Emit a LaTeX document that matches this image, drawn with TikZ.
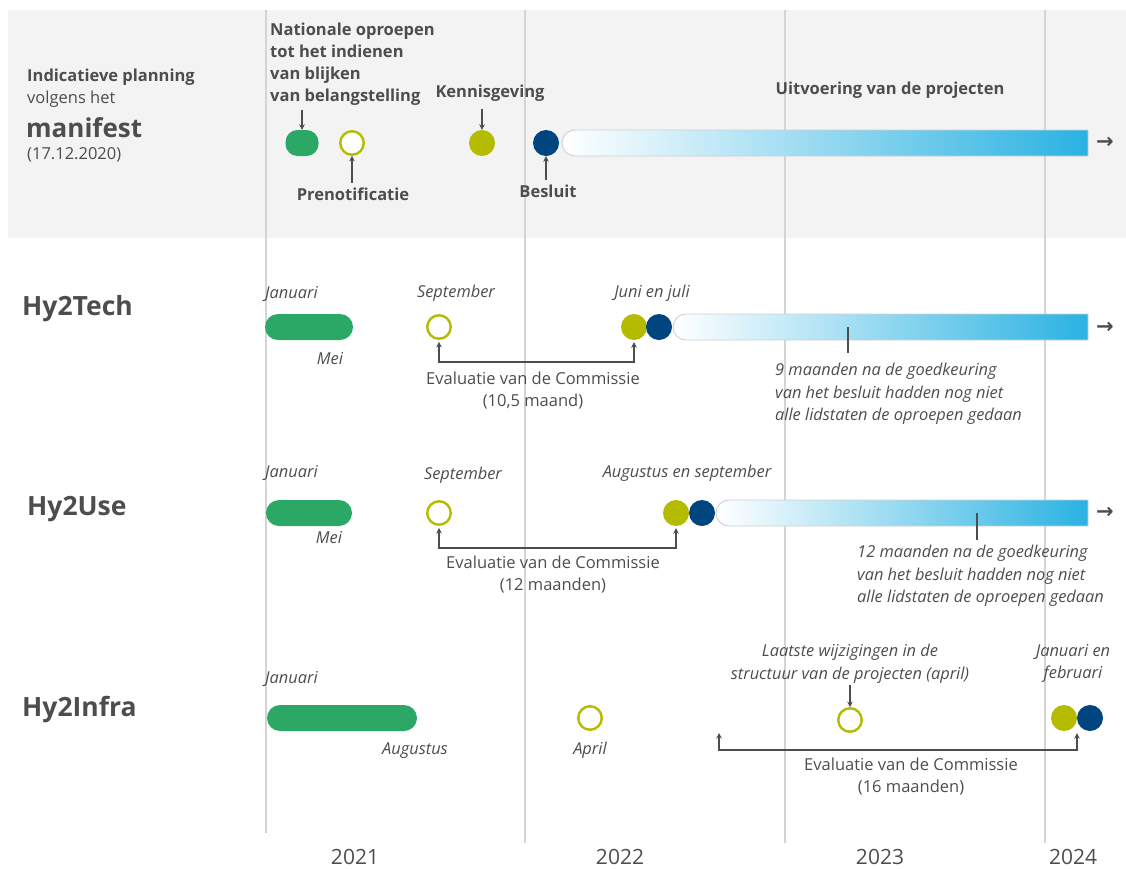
\documentclass[tikz,border=0pt]{standalone}
\usepackage{fontspec}
\setmainfont{Open Sans}
\newfontfamily\symfont{DejaVu Sans}
\usetikzlibrary{arrows.meta}

\definecolor{txt}{HTML}{4D4D4D}
\definecolor{band}{HTML}{F3F3F3}
\definecolor{gridgray}{HTML}{D4D4D4}
\definecolor{callgreen}{HTML}{2BA866}
\definecolor{olivedot}{HTML}{B4BB00}
\definecolor{navydot}{HTML}{00457F}
\definecolor{barcyan}{HTML}{2AB2E2}
\definecolor{barrim}{HTML}{D0D0D0}

% gradient bar: #1 left x, #2 centre y
\newcommand\gradbar[2]{%
  \shadedraw[left color=white, right color=barcyan, draw=barrim, line width=0.9]
    (1088,#2-13) -- (#1+13,#2-13) arc[start angle=270, end angle=90, radius=13]
    -- (1088,#2+13) -- cycle;}

\begin{document}
\begin{tikzpicture}[x=1pt, y=-1pt,
  lbl/.style={text=txt, inner sep=0, font=\fontsize{16.5}{22}\selectfont},
  lblb/.style={lbl, font=\fontsize{16.5}{22}\selectfont\bfseries},
  mon/.style={lbl, font=\fontsize{16.4}{22.5}\selectfont\itshape},
  rowhead/.style={lbl, font=\fontsize{26.5}{30}\selectfont\bfseries, anchor=base west},
  year/.style={lbl, font=\fontsize{21}{26}\selectfont, anchor=base},
  fdot/.style={circle, minimum size=26, inner sep=0},
  oli/.style={fdot, fill=olivedot},
  navy/.style={fdot, fill=navydot},
  ring/.style={circle, draw=olivedot, line width=2.4, minimum size=23.5, inner sep=0, fill=white},
  pill/.style={fill=callgreen, rounded corners=13, minimum height=26, inner sep=0},
  ptr/.style={draw=txt, line width=1.2, -{Stealth[length=5.5,width=5.5]}},
  brk/.style={draw=txt, line width=1.2, {Stealth[length=5.5,width=5.5]}-{Stealth[length=5.5,width=5.5]}},
  gridline/.style={draw=gridgray, line width=1.6},
  tickline/.style={draw=txt, line width=1.6},
  more/.style={text=txt, inner sep=0, font=\symfont\bfseries\fontsize{21}{21}\selectfont},
]
\useasboundingbox (0,0) rectangle (1126,868);

% header band
\fill[band] (8,10) rectangle (1126,238);

% year separators
\draw[gridline] (266,10) -- (266,833);
\draw[gridline] (525,10) -- (525,843);
\draw[gridline] (785,10) -- (785,843);
\draw[gridline] (1045,10) -- (1045,843);

% years
\node[year] (y21) at (355,864) {2021};
\node[year] (y22) at (620,864) {2022};
\node[year] (y23) at (880,864) {2023};
\node[year] (y24) at (1073,864) {2024};

% ---------- manifest ----------
\node[lblb, anchor=base west] (ip) at (27,81) {Indicatieve planning};
\node[lbl, anchor=base west] (vh) at (27,103) {volgens het};
\node[lbl, anchor=base west, font=\fontsize{26}{30}\selectfont\bfseries] (mf) at (26,137) {manifest};
\node[lbl, anchor=base west] (dt) at (27,159) {(17.12.2020)};

\node[lblb, anchor=north west, align=left] (natl) at (270,23)
  {Nationale oproepen\\tot het indienen\\van blijken\\van belangstelling};
\node[pill, minimum width=33, rounded corners=12] (mcall) at (302,143) {};
\draw[ptr] (mcall.north |- 0,110) -- (mcall.north);

\node[ring] (mpre) at (352,143) {};
\node[lblb, anchor=base] (pre) at (353,200) {Prenotificatie};
\draw[ptr] (pre.north -| mpre.south) ++(0,-4) -- (mpre.south);

\node[oli] (mk) at (482,143) {};
\node[lblb, anchor=base] (kenn) at (490,97) {Kennisgeving};
\draw[ptr] (mk.north |- 0,109) -- (mk.north);

\node[navy] (mb) at (546,143) {};
\node[lblb, anchor=base] (bes) at (548,197) {Besluit};
\draw[ptr] (bes.north -| mb.south) ++(0,-4) -- (mb.south);

\gradbar{562}{143}
\node[lblb, anchor=base] (uitv) at (890,94) {Uitvoering van de projecten};
\node[more] (marr) at (1105,143) {→};

% ---------- Hy2Tech ----------
\node[rowhead] (tech) at (22,315) {Hy2Tech};
\node[mon, anchor=base west] (tjan) at (265,298) {Januari};
\node[pill, minimum width=88] (tcall) at (309,327) {};
\node[mon, anchor=base] (tmei) at (330,364) {Mei};
\node[mon, anchor=base] (tsep) at (456,297) {September};
\node[ring] (tpre) at (439,327) {};
\node[mon, anchor=base] (tjj) at (652,297) {Juni en juli};
\node[oli] (tk) at (634,327) {};
\node[navy] (tb) at (659,327) {};
\gradbar{673}{327}
\node[more] (tarr) at (1105,328) {→};
\draw[brk] ([yshift=-2]tpre.south) -- ++(0,20) -| ([yshift=-2]tk.south);
\node[lbl, anchor=base] (tev1) at (533,384) {Evaluatie van de Commissie};
\node[lbl, anchor=base] (tev2) at (533,406) {(10,5 maand)};
\coordinate (ttick) at (848,327);
\draw[tickline] (ttick) -- ++(0,26);
\node[mon, anchor=north west, align=left] (tnote) at (775,363)
  {9 maanden na de goedkeuring\\van het besluit hadden nog niet\\alle lidstaten de oproepen gedaan};

% ---------- Hy2Use ----------
\node[rowhead] (use) at (27,515) {Hy2Use};
\node[mon, anchor=base west] (ujan) at (265,477) {Januari};
\node[pill, minimum width=86] (ucall) at (309,513) {};
\node[mon, anchor=base] (umei) at (329,543) {Mei};
\node[mon, anchor=base] (usep) at (463,479) {September};
\node[ring] (upre) at (439,513) {};
\node[mon, anchor=base] (uas) at (687,477) {Augustus en september};
\node[oli] (uk) at (676,513) {};
\node[navy] (ub) at (702,513) {};
\gradbar{716}{513}
\node[more] (uarr) at (1105,513) {→};
\draw[brk] ([yshift=-2]upre.south) -- ++(0,20) -| ([yshift=-2]uk.south);
\node[lbl, anchor=base] (uev1) at (553,568) {Evaluatie van de Commissie};
\node[lbl, anchor=base] (uev2) at (553,590) {(12 maanden)};
\coordinate (utick) at (977,513);
\draw[tickline] (utick) -- ++(0,27);
\node[mon, anchor=north west, align=left] (unote) at (857,545)
  {12 maanden na de goedkeuring\\van het besluit hadden nog niet\\alle lidstaten de oproepen gedaan};

% ---------- Hy2Infra ----------
\node[rowhead] (infra) at (22,716) {Hy2Infra};
\node[mon, anchor=base west] (ijan) at (265,683) {Januari};
\node[pill, minimum width=150] (icall) at (342,718) {};
\node[mon, anchor=base] (iaug) at (415,754) {Augustus};
\node[ring] (ipre) at (590,718) {};
\node[mon, anchor=base] (iapr) at (590,754) {April};
\node[mon, anchor=north, align=center] (ilast) at (850,644)
  {Laatste wijzigingen in de\\structuur van de projecten (april)};
\node[ring] (ichg) at (850,720) {};
\draw[ptr] (ichg.north |- 0,685) -- (ichg.north);
\node[mon, anchor=north, align=center] (ijf) at (1073,644) {Januari en\\februari};
\node[oli] (ik) at (1064,718) {};
\node[navy] (ib) at (1090,718) {};
\coordinate (ievstart) at (719,733);
\draw[brk] (ievstart) -- ++(0,17) -| ([xshift=13,yshift=-2]ik.south);
\node[lbl, anchor=base] (iev1) at (911,770) {Evaluatie van de Commissie};
\node[lbl, anchor=base] (iev2) at (911,792) {(16 maanden)};
\end{tikzpicture}
\end{document}
